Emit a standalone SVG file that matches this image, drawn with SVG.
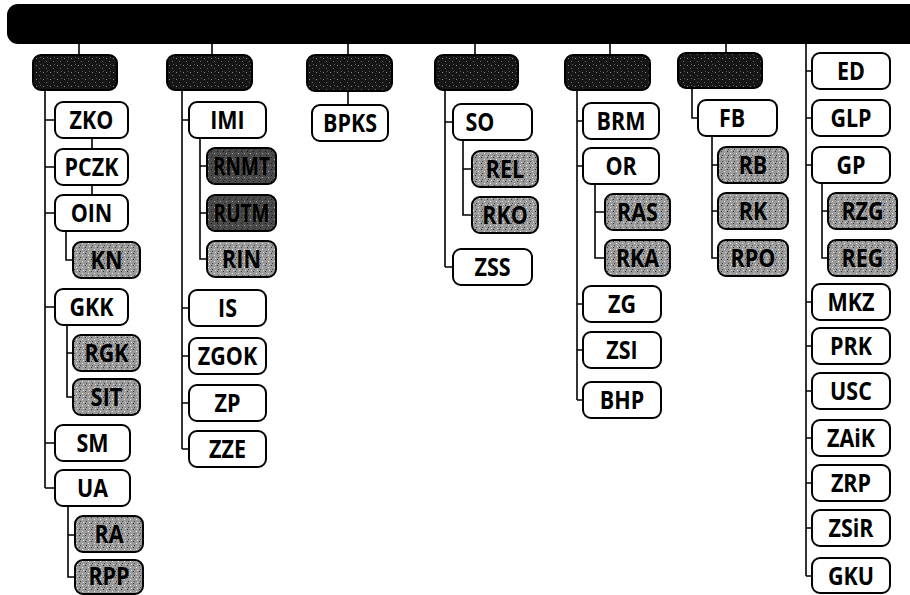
<svg xmlns="http://www.w3.org/2000/svg" width="910" height="595" viewBox="0 0 910 595">
<style>
.b{fill:#fff;stroke:#000;stroke-width:2}
.h{fill:url(#pd);stroke:#000;stroke-width:2}
.s{fill:url(#pm);stroke:#000;stroke-width:2}
.sd{fill:url(#pk);stroke:#000;stroke-width:2}
text{font-family:"Open Sans","Liberation Sans",sans-serif;font-weight:700;font-size:25px;text-anchor:middle;fill:#000;transform-box:fill-box;transform-origin:center;transform:scaleX(.86)}
text.n{transform:scaleX(.76)}
.c line,.c path{stroke:#000;stroke-width:1.6;fill:none}
</style>
<defs>
<pattern id="pd" width="7" height="7" patternUnits="userSpaceOnUse">
<rect width="7" height="7" fill="#161616"/>
<rect x="1" y="2" width="1" height="1" fill="#8a8a8a"/>
<rect x="4" y="5" width="1" height="1" fill="#6a6a6a"/>
<rect x="5" y="1" width="1" height="1" fill="#5a5a5a"/>
</pattern>
<pattern id="pm" width="6" height="6" patternUnits="userSpaceOnUse">
<rect width="6" height="6" fill="#9a9a9a"/>
<rect x="1" y="1" width="1" height="1" fill="#333"/>
<rect x="4" y="3" width="1" height="1" fill="#eee"/>
<rect x="2" y="5" width="1" height="1" fill="#444"/>
<rect x="5" y="0" width="1" height="1" fill="#ddd"/>
</pattern>
<pattern id="pk" width="6" height="6" patternUnits="userSpaceOnUse">
<rect width="6" height="6" fill="#4a4a4a"/>
<rect x="1" y="1" width="1" height="1" fill="#111"/>
<rect x="4" y="3" width="1" height="1" fill="#aaa"/>
<rect x="2" y="5" width="1" height="1" fill="#222"/>
</pattern>
</defs>
<rect id="bar" x="7" y="4" width="915" height="40" rx="11" fill="#000"/>
<g class="c" id="connectors">
<line x1="79" y1="44" x2="79" y2="55"/>
<path d="M45 90V488M45 120H55M45 167H55M45 213H55M45 307H55M45 443H55M45 488H55"/>
<path d="M92 138V149M92 185V195"/>
<path d="M66 231V260H73M67 325V397H73M67 353H73M68 506V577H75M68 535H75"/>
<line x1="212" y1="44" x2="212" y2="55"/>
<path d="M182 90V449M182 120H189M182 308H189M182 356H189M182 403H189M182 449H189"/>
<path d="M200 138V259H207M200 166H207M200 213H207"/>
<line x1="348" y1="44" x2="348" y2="105"/>
<line x1="475" y1="44" x2="475" y2="55"/>
<path d="M445 90V267M445 122H453M445 267H453"/>
<path d="M463 140V215H472M463 169H472"/>
<line x1="610" y1="44" x2="610" y2="55"/>
<path d="M577 90V400M577 121H583M577 166H583M577 304H583M577 350H583M577 400H583"/>
<path d="M595 184V258H605M595 212H605"/>
<line x1="726" y1="43" x2="726" y2="53"/>
<path d="M692 88V118H698"/>
<path d="M712 137V258H718M712 165H718M712 211H718"/>
<path d="M806 43V576M806 71H812M806 118H812M806 165H812M806 302H812M806 346H812M806 391H812M806 438H812M806 483H812M806 528H812M806 576H812"/>
<path d="M822 183V258H828M822 211H828"/>
</g>
<g id="h1"><rect class="h" x="33" y="55" width="84" height="35" rx="8"/></g>
<g id="ZKO"><rect class="b" x="55" y="102" width="73" height="36" rx="8"/><text x="91.5" y="129">ZKO</text></g>
<g id="PCZK"><rect class="b" x="55" y="149" width="73" height="36" rx="8"/><text x="91.5" y="176">PCZK</text></g>
<g id="OIN"><rect class="b" x="55" y="195" width="73" height="36" rx="8"/><text x="91.5" y="222">OIN</text></g>
<g id="KN"><rect class="s" x="73" y="242" width="67" height="36" rx="8"/><text x="106.5" y="269">KN</text></g>
<g id="GKK"><rect class="b" x="55" y="289" width="73" height="36" rx="8"/><text x="91.5" y="316">GKK</text></g>
<g id="RGK"><rect class="s" x="73" y="335" width="67" height="36" rx="8"/><text x="106.5" y="362">RGK</text></g>
<g id="SIT"><rect class="s" x="73" y="379" width="67" height="36" rx="8"/><text x="106.5" y="406">SIT</text></g>
<g id="SM"><rect class="b" x="55" y="425" width="75" height="36" rx="8"/><text x="92.5" y="452">SM</text></g>
<g id="UA"><rect class="b" x="55" y="470" width="75" height="36" rx="8"/><text x="92.5" y="497">UA</text></g>
<g id="RA"><rect class="s" x="75" y="516" width="68" height="36" rx="8"/><text x="109" y="543">RA</text></g>
<g id="RPP"><rect class="s" x="75" y="560" width="68" height="34" rx="8"/><text x="109" y="585">RPP</text></g>
<g id="h2"><rect class="h" x="167" y="55" width="85" height="35" rx="8"/></g>
<g id="IMI"><rect class="b" x="189" y="102" width="77" height="36" rx="8"/><text x="227.5" y="129">IMI</text></g>
<g id="RNMT"><rect class="sd" x="207" y="148" width="69" height="36" rx="8"/><text class="n" x="241.5" y="175">RNMT</text></g>
<g id="RUTM"><rect class="sd" x="207" y="195" width="69" height="36" rx="8"/><text class="n" x="241.5" y="222">RUTM</text></g>
<g id="RIN"><rect class="s" x="207" y="241" width="69" height="36" rx="8"/><text x="241.5" y="268">RIN</text></g>
<g id="IS"><rect class="b" x="189" y="290" width="77" height="36" rx="8"/><text x="227.5" y="317">IS</text></g>
<g id="ZGOK"><rect class="b" x="189" y="338" width="77" height="36" rx="8"/><text x="227.5" y="365">ZGOK</text></g>
<g id="ZP"><rect class="b" x="189" y="385" width="77" height="36" rx="8"/><text x="227.5" y="412">ZP</text></g>
<g id="ZZE"><rect class="b" x="189" y="431" width="77" height="36" rx="8"/><text x="227.5" y="458">ZZE</text></g>
<g id="h3"><rect class="h" x="307" y="55" width="85" height="36" rx="8"/></g>
<g id="BPKS"><rect class="b" x="312" y="105" width="76" height="36" rx="8"/><text x="350" y="132">BPKS</text></g>
<g id="h4"><rect class="h" x="435" y="55" width="83" height="35" rx="8"/></g>
<g id="SO"><rect class="b" x="453" y="104" width="79" height="36" rx="8"/><text x="480" y="131">SO</text></g>
<g id="REL"><rect class="s" x="472" y="151" width="66" height="36" rx="8"/><text x="505" y="178">REL</text></g>
<g id="RKO"><rect class="s" x="472" y="197" width="66" height="36" rx="8"/><text x="505" y="224">RKO</text></g>
<g id="ZSS"><rect class="b" x="453" y="249" width="79" height="36" rx="8"/><text x="492.5" y="276">ZSS</text></g>
<g id="h5"><rect class="h" x="565" y="55" width="85" height="35" rx="8"/></g>
<g id="BRM"><rect class="b" x="583" y="103" width="76" height="36" rx="8"/><text x="621" y="130">BRM</text></g>
<g id="OR"><rect class="b" x="583" y="148" width="76" height="36" rx="8"/><text x="621" y="175">OR</text></g>
<g id="RAS"><rect class="s" x="605" y="194" width="65" height="36" rx="8"/><text x="637.5" y="221">RAS</text></g>
<g id="RKA"><rect class="s" x="605" y="240" width="65" height="36" rx="8"/><text x="637.5" y="267">RKA</text></g>
<g id="ZG"><rect class="b" x="583" y="286" width="78" height="36" rx="8"/><text x="622" y="313">ZG</text></g>
<g id="ZSI"><rect class="b" x="583" y="332" width="78" height="36" rx="8"/><text x="622" y="359">ZSI</text></g>
<g id="BHP"><rect class="b" x="583" y="382" width="78" height="36" rx="8"/><text x="622" y="409">BHP</text></g>
<g id="h6"><rect class="h" x="678" y="53" width="84" height="35" rx="8"/></g>
<g id="FB"><rect class="b" x="698" y="100" width="79" height="36" rx="8"/><text x="732" y="127">FB</text></g>
<g id="RB"><rect class="s" x="718" y="147" width="70" height="36" rx="8"/><text x="753" y="174">RB</text></g>
<g id="RK"><rect class="s" x="718" y="193" width="70" height="36" rx="8"/><text x="753" y="220">RK</text></g>
<g id="RPO"><rect class="s" x="718" y="240" width="70" height="36" rx="8"/><text x="753" y="267">RPO</text></g>
<g id="ED"><rect class="b" x="812" y="53" width="78" height="36" rx="8"/><text x="851" y="80">ED</text></g>
<g id="GLP"><rect class="b" x="812" y="100" width="78" height="36" rx="8"/><text x="851" y="127">GLP</text></g>
<g id="GP"><rect class="b" x="812" y="147" width="78" height="36" rx="8"/><text x="851" y="174">GP</text></g>
<g id="RZG"><rect class="s" x="828" y="193" width="69" height="36" rx="8"/><text x="862.5" y="220">RZG</text></g>
<g id="REG"><rect class="s" x="828" y="240" width="69" height="36" rx="8"/><text x="862.5" y="267">REG</text></g>
<g id="MKZ"><rect class="b" x="812" y="284" width="78" height="36" rx="8"/><text x="851" y="311">MKZ</text></g>
<g id="PRK"><rect class="b" x="812" y="328" width="78" height="36" rx="8"/><text x="851" y="355">PRK</text></g>
<g id="USC"><rect class="b" x="812" y="373" width="78" height="36" rx="8"/><text x="851" y="400">USC</text></g>
<g id="ZAiK"><rect class="b" x="812" y="420" width="78" height="36" rx="8"/><text x="851" y="447">ZAiK</text></g>
<g id="ZRP"><rect class="b" x="812" y="465" width="78" height="36" rx="8"/><text x="851" y="492">ZRP</text></g>
<g id="ZSiR"><rect class="b" x="812" y="510" width="78" height="36" rx="8"/><text x="851" y="537">ZSiR</text></g>
<g id="GKU"><rect class="b" x="812" y="558" width="78" height="35" rx="8"/><text x="851" y="585">GKU</text></g>
</svg>
